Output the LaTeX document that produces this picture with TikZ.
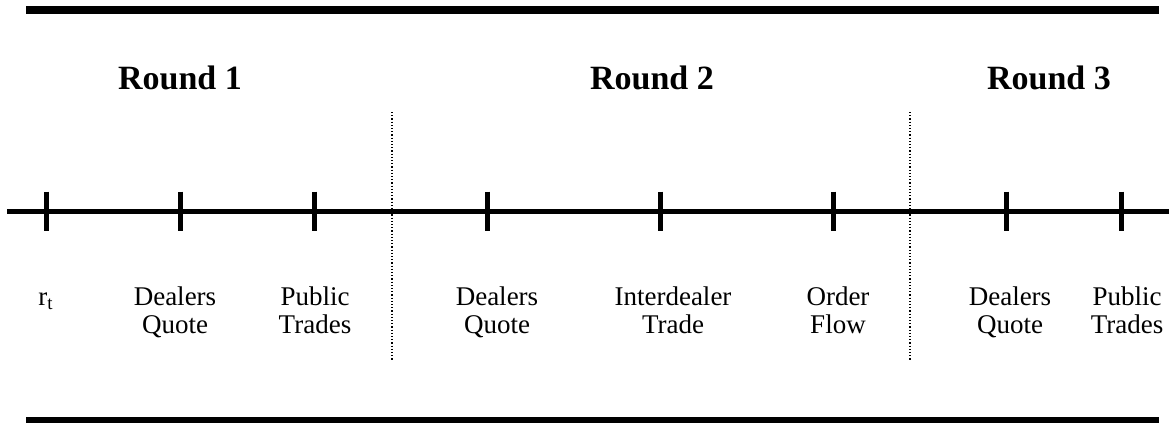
\documentclass[tikz,border=0pt]{standalone}
\usepackage{fontspec}
\setmainfont{Liberation Serif}
\usetikzlibrary{positioning}

\begin{document}
\begin{tikzpicture}[x=0.5pt,y=-0.5pt]
    \tikzstyle{rule}=[line width=4pt]
    \tikzstyle{timeline}=[line width=2.5pt]
    \tikzstyle{tickmark}=[line width=2.5pt]
    \tikzstyle{divider}=[densely dotted, line width=0.6pt]
    \tikzstyle{roundlabel}=[font=\fontsize{17}{20}\selectfont\bfseries, anchor=base, inner sep=0pt]
    \tikzstyle{event}=[font=\fontsize{13.5}{14}\selectfont, align=center, anchor=base, inner sep=0pt]

    \useasboundingbox (0,0) rectangle (1169,423);

    % frame rules
    \draw[rule] (26,10) -- (1159,10);
    \draw[rule] (26,421) -- (1159,421);

    % round titles
    \node[roundlabel] (round1) at (180,90) {Round 1};
    \node[roundlabel] (round2) at (652,90) {Round 2};
    \node[roundlabel] (round3) at (1049,90) {Round 3};

    % time axis and ticks
    \coordinate (start) at (7,211);
    \coordinate (end) at (1170,211);
    \draw[timeline] (start) -- (end);

    \draw[tickmark] (46,191.5) -- (46,230.5);
    \draw[tickmark] (180,191.5) -- (180,230.5);
    \draw[tickmark] (314,191.5) -- (314,230.5);
    \draw[tickmark] (487,191.5) -- (487,230.5);
    \draw[tickmark] (660,191.5) -- (660,230.5);
    \draw[tickmark] (833,191.5) -- (833,230.5);
    \draw[tickmark] (1006,191.5) -- (1006,230.5);
    \draw[tickmark] (1121,191.5) -- (1121,230.5);

    % round boundaries
    \draw[divider] (392,112) -- (392,360);
    \draw[divider] (910,112) -- (910,360);

    % events (base = last line)
    \node[event] (rt) at (46,305.5) {r\textsubscript{t}};
    \node[event] (quote1) at (175,333.5) {Dealers\\Quote};
    \node[event] (trades1) at (315,333.5) {Public\\Trades};
    \node[event] (quote2) at (497,333.5) {Dealers\\Quote};
    \node[event] (interdealer) at (673,333.5) {Interdealer\\Trade};
    \node[event] (flow) at (838,333.5) {Order\\Flow};
    \node[event] (quote3) at (1010,333.5) {Dealers\\Quote};
    \node[event] (trades3) at (1127,333.5) {Public\\Trades};
\end{tikzpicture}
\end{document}
